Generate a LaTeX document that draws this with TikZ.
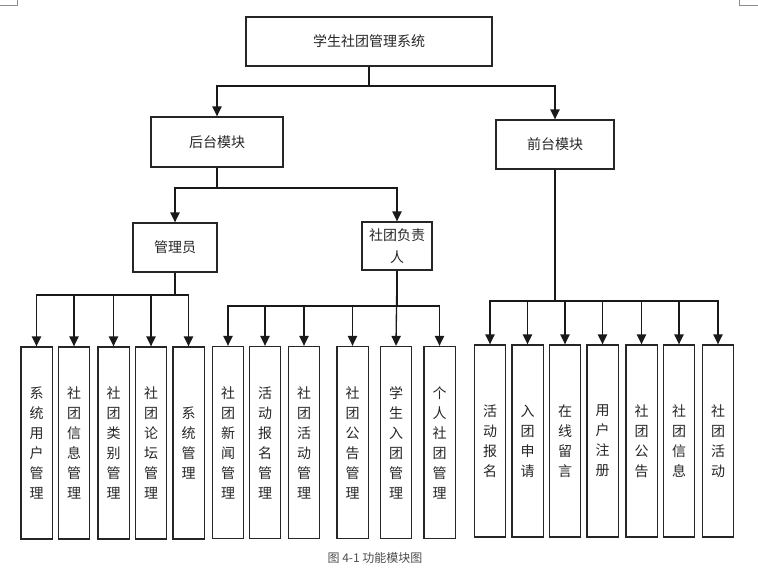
\documentclass[tikz,border=0pt]{standalone}
\usepackage{fontspec}
\setmainfont{Noto Sans CJK SC}
\usetikzlibrary{arrows.meta}
\tikzset{
  box/.style={draw=black!85, line width=1pt, inner sep=0pt, align=center, font=\fontsize{10.5}{15}\selectfont, text=black!85},
  vbox/.style={box, minimum width=23.5pt, minimum height=144pt},
  conn/.style={line width=1pt, draw=black!90},
  arr/.style={conn, -{Triangle[length=7.5pt,width=7pt]}},
  crop/.style={draw=black!45, line width=0.6pt}
}
\begin{document}
\begin{tikzpicture}[x=0.75pt,y=-0.75pt]
\useasboundingbox (0,0) rectangle (758,587);
% page corner marks
\draw[crop] (0,5) -- (17,5) -- (17,0);
\draw[crop] (758,5) -- (739,5) -- (739,0);
% top levels
\node[box, minimum width=184.5pt, minimum height=36.75pt] (top) at (369,41.5) {学生社团管理系统};
\node[box, minimum width=99pt, minimum height=37.5pt] (hou) at (217,142) {后台模块};
\node[box, minimum width=88.5pt, minimum height=36.75pt] (qian) at (555,144.5) {前台模块};
\node[box, minimum width=63pt, minimum height=36.75pt] (gly) at (175,247.5) {管理员};
\node[box, minimum width=52.5pt, minimum height=36pt, font=\fontsize{10.5}{16.5}\selectfont] (fzr) at (397,246) {社团负责\\人};
% admin leaves
\node[vbox] (a1) at (36.5,443) {系\\统\\用\\户\\管\\理};
\node[vbox] (a2) at (74,443) {社\\团\\信\\息\\管\\理};
\node[vbox] (a3) at (113.5,443) {社\\团\\类\\别\\管\\理};
\node[vbox] (a4) at (151,443) {社\\团\\论\\坛\\管\\理};
\node[vbox] (a5) at (188.5,443) {系\\统\\管\\理};
% club leader leaves
\node[vbox] (b1) at (228,442.5) {社\\团\\新\\闻\\管\\理};
\node[vbox] (b2) at (265,442.5) {活\\动\\报\\名\\管\\理};
\node[vbox] (b3) at (304,442.5) {社\\团\\活\\动\\管\\理};
\node[vbox] (b4) at (352.5,442.5) {社\\团\\公\\告\\管\\理};
\node[vbox] (b5) at (396,442.5) {学\\生\\入\\团\\管\\理};
\node[vbox] (b6) at (439.5,442.5) {个\\人\\社\\团\\管\\理};
% front leaves
\node[vbox] (c1) at (490,441) {活\\动\\报\\名};
\node[vbox] (c2) at (527.5,441) {入\\团\\申\\请};
\node[vbox] (c3) at (565,441) {在\\线\\留\\言};
\node[vbox] (c4) at (602.5,441) {用\\户\\注\\册};
\node[vbox] (c5) at (641.5,441) {社\\团\\公\\告};
\node[vbox] (c6) at (679,441) {社\\团\\信\\息};
\node[vbox] (c7) at (718,441) {社\\团\\活\\动};
% connectors
\coordinate (j0) at (369,86);
\draw[conn] (top.south) -- (j0);
\foreach \t in {hou,qian} \draw[arr] (j0) -| (\t.north);
\coordinate (j1) at (217,188);
\draw[conn] (hou.south) -- (j1);
\foreach \t in {gly,fzr} \draw[arr] (j1) -| (\t.north);
\coordinate (j2) at (175,295);
\draw[conn] (gly.south) -- (j2);
\foreach \t in {a1,a2,a3,a4,a5} \draw[arr] (j2) -| (\t.north);
\coordinate (j3) at (397,306);
\draw[conn] (fzr.south) -- (j3);
\foreach \t in {b1,b2,b3,b4,b6} \draw[arr] (j3) -| (\t.north);
\draw[arr] (fzr.south) -- (b5.north);
\coordinate (j4) at (555,301);
\draw[conn] (qian.south) -- (j4);
\foreach \t in {c1,c2,c3,c4,c5,c6,c7} \draw[arr] (j4) -| (\t.north);
% caption
\node[font=\fontsize{9}{11}\selectfont, text=black!70] (cap) at (375,558) {图 4-1 功能模块图};
\end{tikzpicture}
\end{document}
